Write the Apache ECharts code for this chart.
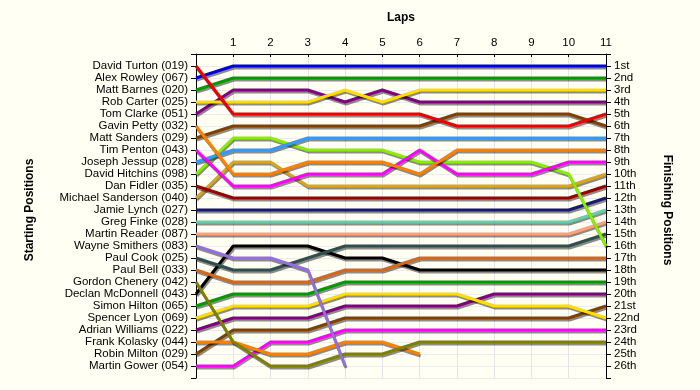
<!DOCTYPE html>
<html>
<head>
<meta charset="utf-8">
<script src="https://cdn.jsdelivr.net/npm/echarts@6/dist/echarts.min.js"></script>
<style>html,body{margin:0;padding:0;background:#FFFFF3;}#c{width:700px;height:390px;}</style>
</head>
<body>
<div id="c"></div>
<script>
const laps = [0,1,2,3,4,5,6,7,8,9,10,11];
const startNames = ["David Turton (019)","Alex Rowley (067)","Matt Barnes (020)","Rob Carter (025)","Tom Clarke (051)","Gavin Petty (032)","Matt Sanders (029)","Tim Penton (043)","Joseph Jessup (028)","David Hitchins (098)","Dan Fidler (035)","Michael Sanderson (040)","Jamie Lynch (027)","Greg Finke (028)","Martin Reader (087)","Wayne Smithers (083)","Paul Cook (025)","Paul Bell (033)","Gordon Chenery (042)","Declan McDonnell (043)","Simon Hilton (065)","Spencer Lyon (069)","Adrian Williams (022)","Frank Kolasky (044)","Robin Milton (029)","Martin Gower (054)"];
const finishLabels = ["1st","2nd","3rd","4th","5th","6th","7th","8th","9th","10th","11th","12th","13th","14th","15th","16th","17th","18th","19th","20th","21st","22nd","23rd","24th","25th","26th"];
const colors = ["#ee0000","#0000dd","#009900","#ffdd00","#800080","#ff8000","#804000","#ff00ff","#3399ff","#88ee00","#990000","#daa520","#191970","#66cdaa","#ffa07a","#9370db","#2f4f4f","#d2691e","#808000","#000000","#009900","#ffdd00","#800080","#ff8000","#804000","#ff00ff"];
const positions = [
  [1,5,5,5,5,5,5,6,6,6,6,5],
  [2,1,1,1,1,1,1,1,1,1,1,1],
  [3,2,2,2,2,2,2,2,2,2,2,2],
  [4,4,4,4,3,4,3,3,3,3,3,3],
  [5,3,3,3,4,3,4,4,4,4,4,4],
  [6,10,10,9,9,9,10,8,8,8,8,8],
  [7,6,6,6,6,6,6,5,5,5,5,6],
  [8,11,11,10,10,10,8,10,10,10,9,9],
  [9,8,8,7,7,7,7,7,7,7,7,7],
  [10,7,7,8,8,8,9,9,9,9,10,16],
  [11,12,12,12,12,12,12,12,12,12,12,11],
  [12,9,9,11,11,11,11,11,11,11,11,10],
  [13,13,13,13,13,13,13,13,13,13,13,12],
  [14,14,14,14,14,14,14,14,14,14,14,13],
  [15,15,15,15,15,15,15,15,15,15,15,14],
  [16,17,17,18,26,null,null,null,null,null,null,null],
  [17,18,18,17,16,16,16,16,16,16,16,15],
  [18,19,19,19,18,18,17,17,17,17,17,17],
  [19,24,26,26,25,25,24,24,24,24,24,24],
  [20,16,16,16,17,17,18,18,18,18,18,18],
  [21,20,20,20,19,19,19,19,19,19,19,19],
  [22,21,21,21,20,20,20,20,21,21,21,22],
  [23,22,22,22,21,21,21,21,20,20,20,20],
  [24,24,25,25,24,24,25,null,null,null,null,null],
  [25,23,23,23,22,22,22,22,22,22,22,21],
  [26,26,24,24,23,23,23,23,23,23,23,23]
];

const font = "Liberation Sans, Arial, sans-serif";
const series = positions.map((p, i) => ({
  type: 'line',
  name: startNames[i],
  data: laps.map((l, j) => p[j] == null ? null : [l, p[j]]).filter(d => d),
  symbol: 'none',
  z: 2 + (26 - i) / 100,
  lineStyle: { color: colors[i], width: 3, shadowColor: 'rgba(0,0,0,0.45)', shadowOffsetX: 1, shadowOffsetY: 2, shadowBlur: 0 },
  itemStyle: { color: colors[i] },
  animation: false
}));

const chart = echarts.init(document.getElementById('c'), null, { renderer: 'canvas' });
chart.setOption({
  backgroundColor: '#FFFFF3',
  animation: false,
  grid: { left: 196, right: 94, top: 54, bottom: 12 },
  xAxis: {
    type: 'value', position: 'top', min: 0, max: 11, interval: 1,
    axisLine: { show: true, lineStyle: { color: '#000', width: 1 } },
    axisTick: { show: true, inside: true, length: 3, lineStyle: { color: '#000' } },
    axisLabel: { color: '#000', fontFamily: font, fontSize: 11.5, margin: 5, formatter: v => v === 0 ? '' : String(v) },
    splitLine: { show: true, lineStyle: { color: '#e4e4e4', width: 1 } }
  },
  yAxis: [
    {
      type: 'value', position: 'left', min: 0, max: 27, interval: 1, inverse: true,
      axisLine: { show: true, lineStyle: { color: '#000' } },
      axisTick: { show: true, length: 5, lineStyle: { color: '#000' } },
      axisLabel: { color: '#000', fontFamily: font, fontSize: 11.5, margin: 8, formatter: v => startNames[v - 1] || '' },
      splitLine: { show: true, lineStyle: { color: '#ececec', width: 1 } }
    },
    {
      type: 'value', position: 'right', min: 0, max: 27, interval: 1, inverse: true,
      axisLine: { show: true, lineStyle: { color: '#000' } },
      axisTick: { show: true, length: 5, lineStyle: { color: '#000' } },
      axisLabel: { color: '#000', fontFamily: font, fontSize: 11.5, margin: 8, formatter: v => finishLabels[v - 1] || '' },
      splitLine: { show: false }
    }
  ],
  graphic: [
    { type: 'text', x: 401, y: 18, style: { text: 'Laps', font: 'bold 12px ' + font, fill: '#000', align: 'center', verticalAlign: 'middle' } },
    { type: 'text', x: 30, y: 210, rotation: Math.PI / 2, style: { text: 'Starting Positions', font: 'bold 12px ' + font, fill: '#000', align: 'center', verticalAlign: 'middle' } },
    { type: 'text', x: 667, y: 210, rotation: -Math.PI / 2, style: { text: 'Finishing Positions', font: 'bold 12px ' + font, fill: '#000', align: 'center', verticalAlign: 'middle' } }
  ],
  series: series
});
</script>
</body>
</html>
